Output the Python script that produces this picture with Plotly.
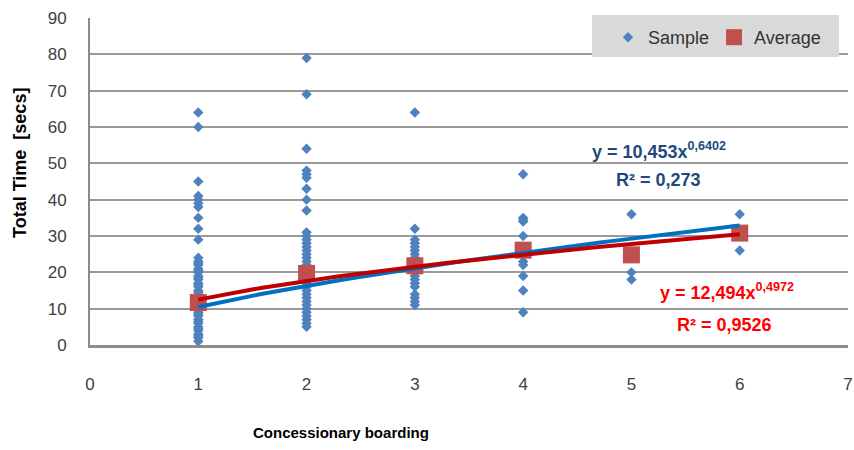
import numpy as np
import plotly.graph_objects as go

# ---- data ----
boarding = [1, 2, 3, 4, 5, 6]
samples_1 = [64, 60, 45, 41, 40, 39, 38, 35, 32, 29, 24, 23, 22, 21, 20, 19, 18, 17, 16, 15,
             14, 13, 12, 11, 10, 9, 8, 7, 6, 5, 4, 3, 2, 1, 22.5, 20.5, 18.5, 16.5, 14.5,
             12.5, 10.5, 8.5, 6.5, 4.5, 2.5]
samples_2 = [79, 69, 54, 48, 47, 46, 43, 40, 37, 31, 30, 29, 28, 27, 26, 25, 24, 23, 22, 21,
             20, 19, 18, 17, 16, 15, 14, 13, 12, 11, 10, 9, 8, 7, 6, 5]
samples_3 = [64, 32, 29, 28, 27, 26, 25, 24, 23, 22, 21, 20, 19, 18, 17, 16, 14, 13, 12, 11]
samples_4 = [47, 35, 34.5, 34, 30, 27, 25, 23, 22, 19, 15, 9]
samples_5 = [36, 20, 18]
samples_6 = [36, 31, 26]
sample_groups = [samples_1, samples_2, samples_3, samples_4, samples_5, samples_6]
averages = [11.7, 19.7, 21.8, 26.1, 24.8, 30.8]

# power trendline coefficients shown on the chart
sample_fit = (10.453, 0.6402)
average_fit = (12.494, 0.4972)

sample_x = [b for b, g in zip(boarding, sample_groups) for _ in g]
sample_y = [v for g in sample_groups for v in g]

xs = np.linspace(min(boarding), max(boarding), 60)

FONT = "Liberation Sans, Arial, sans-serif"

W, H = 854, 450
L, R, T, B = 90, 6, 18, 105
PW, PH = W - L - R, H - T - B


def px(xp):
    return (xp - L) / PW


def py(yp):
    return (H - B - yp) / PH


fig = go.Figure()
fig.add_trace(go.Scatter(x=sample_x, y=sample_y, mode="markers", name="Sample",
                         marker=dict(symbol="diamond", size=8, color="#4F81BD")))
fig.add_trace(go.Scatter(x=boarding, y=averages, mode="markers", name="Average",
                         marker=dict(symbol="square", size=17, color="#C0504D")))
fig.add_trace(go.Scatter(x=xs, y=sample_fit[0] * xs ** sample_fit[1], mode="lines",
                         line=dict(color="#0070C0", width=4), showlegend=False, hoverinfo="skip"))
fig.add_trace(go.Scatter(x=xs, y=average_fit[0] * xs ** average_fit[1], mode="lines",
                         line=dict(color="#C00000", width=4), showlegend=False, hoverinfo="skip"))

eq_font = dict(family=FONT, size=18)
fig.add_annotation(x=5.254, y=53.6, xref="x", yref="y", showarrow=False, xanchor="center",
                   text="<b>y = 10,453x<sup>0,6402</sup></b>", font=dict(eq_font, color="#1F497D"))
fig.add_annotation(x=5.254, y=45.3, xref="x", yref="y", showarrow=False, xanchor="center",
                   text="<b>R² = 0,273</b>", font=dict(eq_font, color="#1F497D"))
fig.add_annotation(x=5.88, y=14.6, xref="x", yref="y", showarrow=False, xanchor="center",
                   text="<b>y = 12,494x<sup>0,4972</sup></b>", font=dict(eq_font, color="#FF0000"))
fig.add_annotation(x=5.863, y=5.5, xref="x", yref="y", showarrow=False, xanchor="center",
                   text="<b>R² = 0,9526</b>", font=dict(eq_font, color="#FF0000"))

# axis titles (placed as in the reference, not centred on the plot area)
fig.add_annotation(x=px(341), y=py(433), xref="paper", yref="paper", showarrow=False,
                   xanchor="center", yanchor="middle",
                   text="<b>Concessionary boarding</b>",
                   font=dict(family=FONT, size=15, color="#000000"))
fig.add_annotation(x=px(20), y=py(163), xref="paper", yref="paper", showarrow=False,
                   xanchor="center", yanchor="middle",
                   textangle=-90, text="<b>Total Time  [secs]</b>",
                   font=dict(family=FONT, size=18, color="#000000"))

# legend background box
fig.add_shape(type="rect", xref="paper", yref="paper", layer="above",
              x0=px(592), x1=px(839), y0=py(57), y1=py(15),
              fillcolor="#D9D9D9", line=dict(width=0))

fig.update_layout(
    width=W, height=H,
    margin=dict(l=L, r=R, t=T, b=B, autoexpand=False),
    paper_bgcolor="white", plot_bgcolor="white",
    font=dict(family=FONT, size=17, color="#404040"),
    showlegend=True,
    legend=dict(orientation="h", x=px(608), xanchor="left", y=py(19), yanchor="top",
                bgcolor="rgba(0,0,0,0)", font=dict(family=FONT, size=18, color="#333333"),
                itemwidth=30, traceorder="normal"),
)
fig.update_xaxes(range=[0, 7], dtick=1, showgrid=False, zeroline=False, automargin=False,
                 showline=True, linecolor="#8C8C8C", linewidth=3,
                 ticks="", ticklabelstandoff=22,
                 tickfont=dict(family=FONT, size=17, color="#404040"))
fig.update_yaxes(range=[0, 90], dtick=10, showgrid=True, gridcolor="#9A9A9A", gridwidth=2,
                 zeroline=False, showline=True, linecolor="#8C8C8C", linewidth=2,
                 automargin=False, ticks="", ticklabelstandoff=18,
                 tickfont=dict(family=FONT, size=17, color="#404040"))

fig.write_html("out.html", config={"displayModeBar": False},
               post_script="document.body.style.margin='0';")
